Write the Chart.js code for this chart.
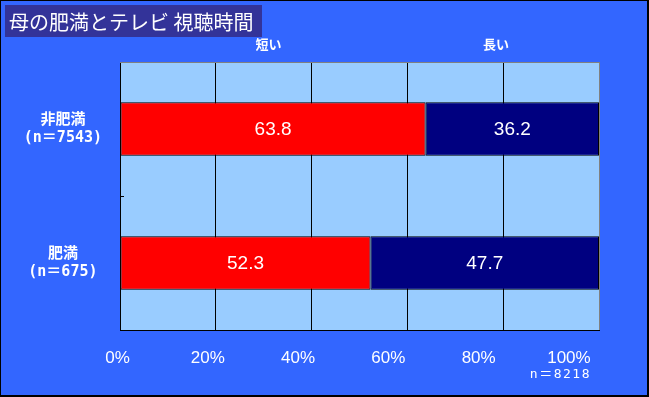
<!DOCTYPE html>
<html>
<head>
<meta charset="utf-8">
<script src="https://cdn.jsdelivr.net/npm/chart.js@4/dist/chart.umd.min.js"></script>
<style>
  html, body { margin: 0; padding: 0; background: #3366ff; }
  canvas { display: block; }
</style>
</head>
<body>
<canvas id="tvChart" width="649" height="397"></canvas>
<script>
// data
const groups = [['非肥満', '(n＝7543)'], ['肥満', '(n＝675)']];
const seriesNames = ['短い', '長い'];
const shortTv = [63.8, 52.3];
const longTv = [36.2, 47.7];
const tickLabels = ['0%', '20%', '40%', '60%', '80%', '100%'];
const tickValues = [0, 20, 40, 60, 80, 100];
const titleText = '母の肥満とテレビ 視聴時間';
const totalNote = 'n＝8218';

const jpFont = '"Noto Sans CJK JP", "DejaVu Sans", sans-serif';
const monoFont = '"DejaVu Sans Mono", "Noto Sans CJK JP", monospace';
const numFont = '"Liberation Sans", Arial, sans-serif';

// background, title box, frame, header names, value labels
const decorPlugin = {
    id: 'decor',
    beforeDraw(chart) {
        const ctx = chart.ctx;
        const a = chart.chartArea;
        ctx.save();
        ctx.fillStyle = '#3366ff';
        ctx.fillRect(0, 0, chart.width, chart.height);
        ctx.fillStyle = '#99ccff';
        ctx.fillRect(a.left, a.top, a.right - a.left, a.bottom - a.top);

        // title box
        ctx.fillStyle = '#333399';
        ctx.fillRect(5, 5, 257, 32);
        ctx.fillStyle = '#ffffff';
        ctx.font = '20px ' + jpFont;
        ctx.textBaseline = 'middle';
        ctx.textAlign = 'left';
        ctx.fillText(titleText, 9, 22);

        // series names above the plot
        const x = chart.scales.x;
        ctx.font = 'bold 13px ' + jpFont;
        ctx.textAlign = 'center';
        ctx.fillText(seriesNames[0], x.getPixelForValue(31), 44);
        ctx.fillText(seriesNames[1], x.getPixelForValue(78.5), 44);

        // total n
        ctx.font = '13px ' + monoFont;
        ctx.letterSpacing = '1.5px';
        ctx.textAlign = 'right';
        ctx.fillText(totalNote, 591, 375);
        ctx.letterSpacing = '0px';
        ctx.restore();
    },
    afterDatasetsDraw(chart) {
        const ctx = chart.ctx;
        const a = chart.chartArea;
        ctx.save();
        // gray top / right plot border
        ctx.strokeStyle = '#808080';
        ctx.lineWidth = 1;
        ctx.beginPath();
        ctx.moveTo(a.left, a.top + 0.5);
        ctx.lineTo(a.right + 0.5, a.top + 0.5);
        ctx.lineTo(a.right + 0.5, a.bottom);
        ctx.stroke();
        // small tick between the two groups
        const y = chart.scales.y;
        const mid = Math.round((y.getPixelForValue(0) + y.getPixelForValue(1)) / 2) + 0.5;
        ctx.strokeStyle = '#000000';
        ctx.beginPath();
        ctx.moveTo(a.left, mid);
        ctx.lineTo(a.left + 4, mid);
        ctx.stroke();

        // value labels
        ctx.fillStyle = '#ffffff';
        ctx.font = '19px ' + numFont;
        ctx.textAlign = 'center';
        ctx.textBaseline = 'middle';
        chart.data.datasets.forEach((ds, i) => {
            chart.getDatasetMeta(i).data.forEach((bar, j) => {
                const p = bar.getProps(['x', 'y', 'base']);
                ctx.fillText(ds.data[j].toFixed(1), (p.x + p.base) / 2, p.y + 1);
            });
        });

        // outer frame
        ctx.fillStyle = '#000000';
        ctx.fillRect(0, 0, chart.width, 1);
        ctx.fillRect(0, 0, 1, chart.height);
        ctx.fillRect(chart.width - 2, 0, 2, chart.height);
        ctx.fillRect(0, chart.height - 2, chart.width, 2);
        ctx.restore();
    }
};

new Chart(document.getElementById('tvChart'), {
    type: 'bar',
    data: {
        labels: groups,
        datasets: [{
            label: seriesNames[0],
            data: shortTv,
            backgroundColor: '#ff0000',
            borderColor: '#000000',
            borderWidth: 1,
            borderSkipped: false,
            categoryPercentage: 0.4,
            barPercentage: 1.0
        }, {
            label: seriesNames[1],
            data: longTv,
            backgroundColor: '#000080',
            borderColor: '#000000',
            borderWidth: 1,
            borderSkipped: false,
            categoryPercentage: 0.4,
            barPercentage: 1.0
        }]
    },
    options: {
        indexAxis: 'y',
        responsive: false,
        animation: false,
        layout: {
            padding: { top: 62, right: 50, bottom: 20, left: 0 }
        },
        plugins: {
            legend: { display: false },
            tooltip: { enabled: false }
        },
        scales: {
            x: {
                stacked: true,
                min: 0,
                max: 100,
                ticks: { display: false, stepSize: 20 },
                grid: {
                    color: (c) => (c.tick && c.tick.value === 100) ? '#808080' : '#000000',
                    drawTicks: false
                },
                border: { color: '#000000' },
                afterFit(scale) { scale.height = 0; }
            },
            xLabels: {
                type: 'linear',
                position: 'bottom',
                min: 0.555,
                max: 106.66,
                afterBuildTicks(scale) {
                    scale.ticks = tickValues.map(v => ({ value: v }));
                },
                ticks: {
                    autoSkip: false,
                    maxRotation: 0,
                    color: '#ffffff',
                    padding: 18,
                    font: { family: numFont, size: 17 },
                    callback: (v) => tickLabels[tickValues.indexOf(v)]
                },
                grid: { display: false, drawTicks: false },
                border: { display: false },
                afterFit(scale) { scale.height = 47; }
            },
            y: {
                stacked: true,
                ticks: {
                    color: '#ffffff',
                    padding: 18,
                    crossAlign: 'center',
                    font: { family: monoFont, size: 15, weight: 'bold', lineHeight: 1.2 }
                },
                grid: { display: false, drawTicks: false },
                border: { color: '#000000' },
                afterFit(scale) { scale.width = 120; }
            }
        }
    },
    plugins: [decorPlugin]
});
</script>
</body>
</html>
